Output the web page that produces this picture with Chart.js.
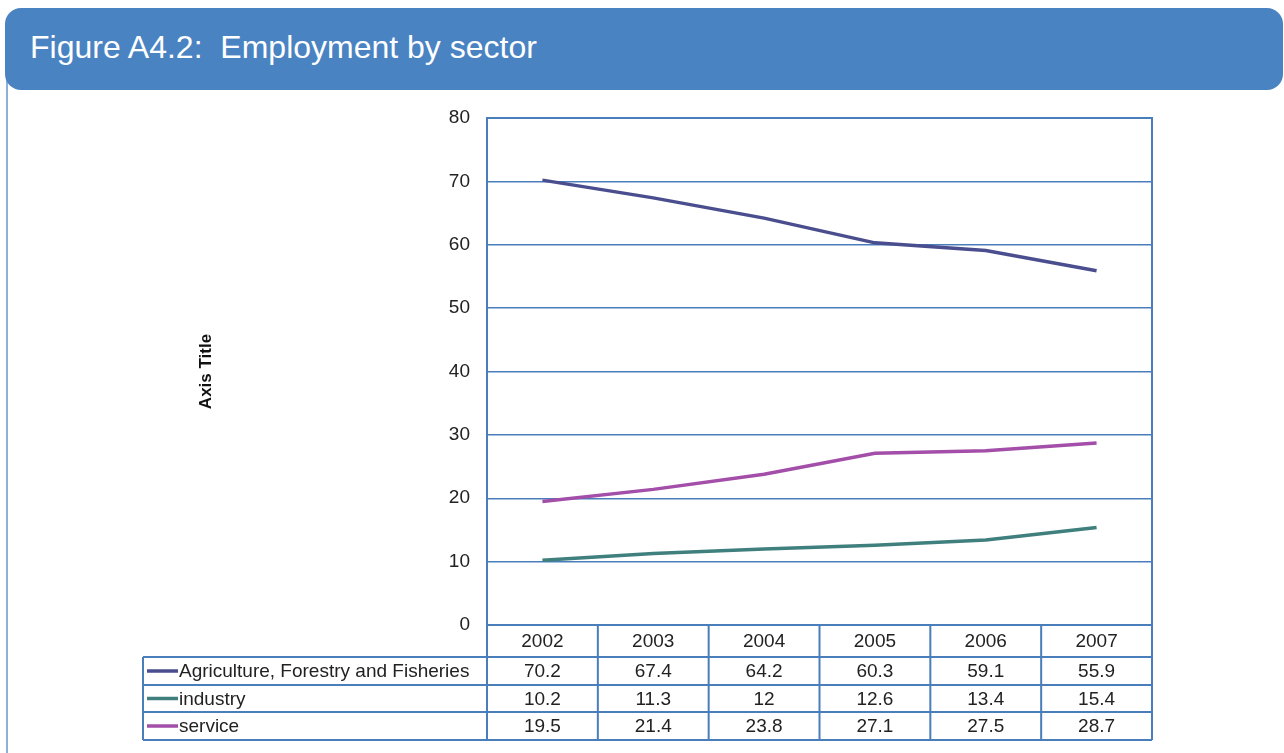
<!DOCTYPE html>
<html>
<head>
<meta charset="utf-8">
<script src="https://cdn.jsdelivr.net/npm/chart.js@4/dist/chart.umd.min.js"></script>
<style>
  html, body { margin: 0; padding: 0; background: #fff; }
  #wrap { position: relative; width: 1284px; height: 753px; overflow: hidden; }
  #frame { position: absolute; left: 6px; top: 80px; width: 2px; height: 680px; background: #8db0da; }
  #head {
    position: absolute; left: 5px; top: 8px; width: 1278px; height: 82px;
    background: #4a83c2; border-radius: 16px;
    color: #fff; font-family: "Liberation Sans", Arial, sans-serif; font-size: 32px;
    line-height: 78px; padding-left: 25px; box-sizing: border-box; white-space: pre;
  }
  #chart { position: absolute; left: 0; top: 0; }
</style>
</head>
<body>
<div id="wrap">
  <div id="frame"></div>
  <canvas id="chart" width="1284" height="753"></canvas>
  <div id="head">Figure A4.2:  Employment by sector</div>
</div>
<script>
const years = ['2002', '2003', '2004', '2005', '2006', '2007'];
const agriculture = [70.2, 67.4, 64.2, 60.3, 59.1, 55.9];
const industry = [10.2, 11.3, 12, 12.6, 13.4, 15.4];
const service = [19.5, 21.4, 23.8, 27.1, 27.5, 28.7];
const yTicks = [0, 10, 20, 30, 40, 50, 60, 70, 80];

const seriesNames = ['Agriculture, Forestry and Fisheries', 'industry', 'service'];
const seriesColors = ['#4b4e8e', '#3f7f7e', '#a34ea8'];
const gridBlue = '#4a7ebb';
const font = '"Liberation Sans", Arial, sans-serif';

// plot box plus the data table underneath, laid out on the x scale
const tablePlugin = {
  id: 'dataTable',
  afterDraw(chart) {
    const ctx = chart.ctx;
    const area = chart.chartArea;
    const x = chart.scales.x;
    const ds = chart.data.datasets;
    const colW = (area.right - area.left) / years.length;
    const legendLeft = 143;
    const rowTop = [area.bottom, 657, 685, 712, 740];

    ctx.save();
    ctx.strokeStyle = gridBlue;
    ctx.lineWidth = 2;
    ctx.strokeRect(area.left, area.top, area.right - area.left, area.bottom - area.top);

    // horizontal rules
    ctx.beginPath();
    ctx.moveTo(area.left, rowTop[0]); ctx.lineTo(area.right, rowTop[0]);
    for (let r = 1; r < rowTop.length; r++) {
      ctx.moveTo(legendLeft, rowTop[r]); ctx.lineTo(area.right, rowTop[r]);
    }
    // vertical rules
    ctx.moveTo(legendLeft, rowTop[1]); ctx.lineTo(legendLeft, rowTop[4]);
    for (let i = 0; i <= years.length; i++) {
      const cx = area.left + i * colW;
      ctx.moveTo(cx, rowTop[0]); ctx.lineTo(cx, rowTop[4]);
    }
    ctx.stroke();

    ctx.font = '19px ' + font;
    ctx.fillStyle = '#222';
    ctx.textBaseline = 'middle';
    ctx.textAlign = 'center';
    years.forEach((y, i) => {
      ctx.fillText(y, x.getPixelForValue(i), (rowTop[0] + rowTop[1]) / 2 + 1);
    });
    ds.forEach((d, r) => {
      const cy = (rowTop[r + 1] + rowTop[r + 2]) / 2 + 1;
      ctx.textAlign = 'center';
      d.data.forEach((v, i) => ctx.fillText(String(v), x.getPixelForValue(i), cy));
      // legend key
      ctx.strokeStyle = d.borderColor;
      ctx.lineWidth = 3.5;
      ctx.beginPath();
      ctx.moveTo(147, cy - 1); ctx.lineTo(178, cy - 1);
      ctx.stroke();
      ctx.textAlign = 'left';
      ctx.fillText(d.label, 179, cy);
    });
    ctx.restore();
  }
};

new Chart(document.getElementById('chart'), {
  type: 'line',
  data: {
    labels: years,
    datasets: [agriculture, industry, service].map((vals, i) => ({
      label: seriesNames[i],
      data: vals,
      borderColor: seriesColors[i],
      backgroundColor: seriesColors[i],
      borderWidth: 3.5,
      pointRadius: 0,
      tension: 0
    }))
  },
  options: {
    responsive: false,
    animation: false,
    layout: { padding: { left: 192, right: 132, top: 118, bottom: 128 } },
    plugins: { legend: { display: false }, tooltip: { enabled: false } },
    scales: {
      x: { display: false, offset: true },
      y: {
        min: 0, max: 80,
        afterBuildTicks: s => { s.ticks = yTicks.map(v => ({ value: v })); },
        afterFit: s => { s.width = 295; },
        grid: { color: gridBlue, lineWidth: 1.5, drawTicks: false },
        border: { display: false },
        ticks: { padding: 17, color: '#222', font: { family: font, size: 19 } },
        title: {
          display: true, text: 'Axis Title', color: '#111',
          font: { family: font, size: 17, weight: 'bold' }
        }
      }
    }
  },
  plugins: [tablePlugin]
});
</script>
</body>
</html>
